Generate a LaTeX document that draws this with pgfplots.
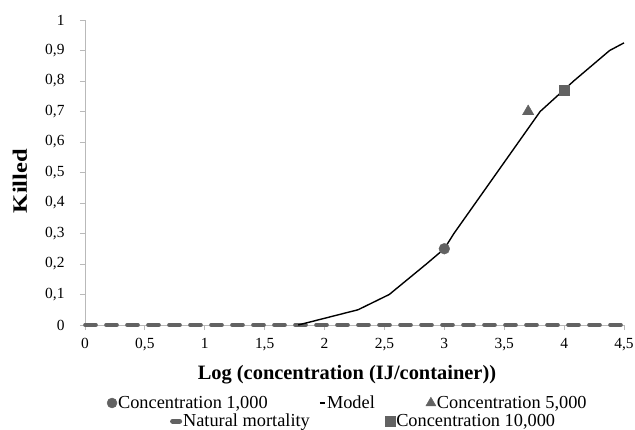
\documentclass[border=0pt]{standalone}
\usepackage{fontspec}
\setmainfont{Liberation Serif}
\usepackage{graphicx}
\usepackage{pgfplots}
\pgfplotsset{compat=1.18}
\definecolor{markgray}{RGB}{98,98,98}
\definecolor{axisgray}{RGB}{185,185,185}
\pgfplotsset{
  markleg/.style={legend image code/.code={\draw[##1] plot coordinates {(0.17cm,0cm)};}},
  lineleg/.style={legend image code/.code={\draw[##1] (0bp,0bp) -- (#1,0bp);}},
  legfont/.style={font=\fontsize{18.4}{21}\selectfont},
}
\begin{document}
\begin{tikzpicture}
\begin{axis}[
  scale only axis, width=539bp, height=305bp,
  xmin=0, xmax=4.5, ymin=0, ymax=1,
  xtick={0,0.5,1,1.5,2,2.5,3,3.5,4,4.5},
  ytick={0,0.1,0.2,0.3,0.4,0.5,0.6,0.7,0.8,0.9,1},
  axis x line=bottom, axis y line=left,
  axis line style={-, axisgray, line width=0.8pt},
  tick align=outside, major tick length=5bp,
  tick style={axisgray, line width=0.8pt},
  /pgf/number format/use comma,
  /pgf/number format/assume math mode=true,
  tick label style={font=\fontsize{15.5}{18}\selectfont},
  xticklabel style={yshift=-5bp},
  yticklabel style={xshift=-12bp},
  xlabel={Log (concentration (IJ/container))},
  xlabel style={font=\bfseries\fontsize{20.5}{24}\selectfont, at={(axis description cs:0.486,-0.164)}, anchor=center},
  ylabel={\scalebox{1.2}[1]{Killed}},
  ylabel style={font=\bfseries\fontsize{20.5}{24}\selectfont, at={(axis description cs:-0.1206,0.472)}, anchor=center},
  clip=false,
  legend style={draw=none, fill=none, legfont, legend columns=3,
    nodes={inner xsep=1bp},
    at={(0.035,-0.2557)}, anchor=west,
    /tikz/every even column/.append style={column sep=50bp}},
]
% natural mortality
\addplot[forget plot, markgray, line width=3.6bp, line cap=round, dash pattern=on 11bp off 10bp]
  coordinates {(0,0) (4.5,0)};
% model
\addplot[forget plot, black, line width=1.4bp] coordinates {
  (1.78,0) (2.28,0.05) (2.54,0.1) (2.85,0.2) (3.0,0.25) (3.08,0.3)
  (3.26,0.4) (3.44,0.5) (3.62,0.6) (3.8,0.7) (4.08,0.8) (4.38,0.9) (4.5,0.925)
};
% observed
\addplot[forget plot, only marks, mark=*, mark size=5.4bp, markgray] coordinates {(3.0,0.25)};
\addplot[forget plot, only marks, mark=triangle*, mark size=6.6bp, markgray] coordinates {(3.7,0.70)};
\addplot[forget plot, only marks, mark=square*, mark size=5.4bp, markgray] coordinates {(4.0,0.77)};
% legend, first row
\addlegendimage{markleg, only marks, mark=*, mark size=5bp, markgray}
\addlegendentry{Concentration 1,000}
\addlegendimage{lineleg=5bp, black, line width=2.3bp}
\addlegendentry{Model}
\addlegendimage{markleg, only marks, mark=triangle*, mark size=5.8bp, markgray}
\addlegendentry{Concentration 5,000}
\end{axis}
\begin{axis}[
  scale only axis, width=539bp, height=305bp,
  xmin=0, xmax=1, ymin=0, ymax=1, hide axis,
  legend style={draw=none, fill=none, legfont, legend columns=2,
    nodes={inner xsep=1bp},
    at={(0.152,-0.315)}, anchor=west,
    /tikz/every even column/.append style={column sep=74bp}},
]
\addlegendimage{lineleg=7bp, markgray, line width=5bp, line cap=round}
\addlegendentry{Natural mortality}
\addlegendimage{markleg, only marks, mark=square*, mark size=5.2bp, markgray}
\addlegendentry{Concentration 10,000}
\end{axis}
\pgfresetboundingbox
\path[use as bounding box] (-85bp,-105bp) rectangle (550bp,325bp);
\end{tikzpicture}
\end{document}
